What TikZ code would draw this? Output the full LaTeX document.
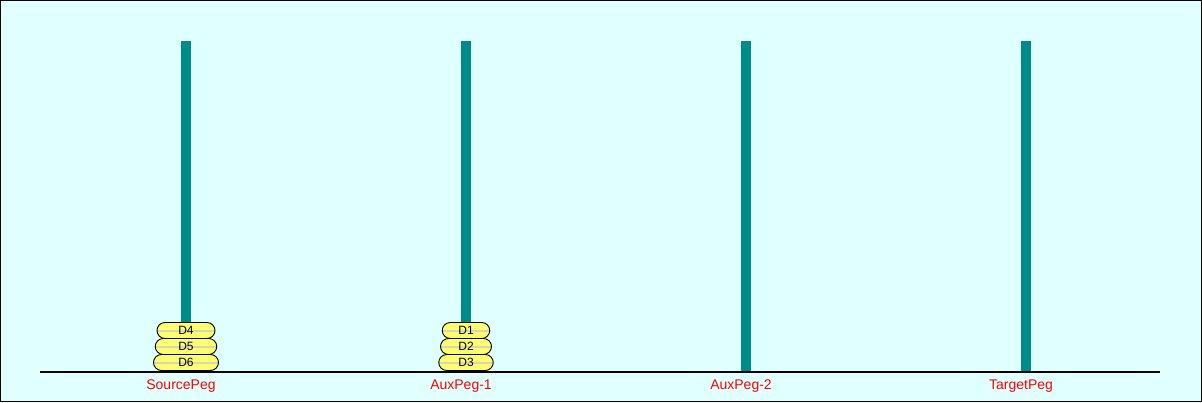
\documentclass[tikz,border=0pt]{standalone}
\usepackage{fontspec}
\setmainfont{Liberation Sans}
\definecolor{bgcyan}{RGB}{224,255,255}
\definecolor{pegteal}{RGB}{0,139,139}
\definecolor{diskyellow}{RGB}{255,255,102}
\definecolor{stripegray}{RGB}{211,211,211}

\begin{document}
\begin{tikzpicture}[x=1pt,y=-1pt,
	peg/.style={fill=pegteal,draw=none},
	disk node/.style={draw=black,line width=0.9pt,fill=diskyellow,rounded corners=8pt,
		minimum height=16pt,inner sep=0pt,font=\fontsize{12}{12}\selectfont,
		path picture={\draw[stripegray,line width=2pt] (path picture bounding box.west) -- (path picture bounding box.east);}},
	peg label/.style={text=red,font=\fontsize{14}{14}\selectfont}]
	
	% frame
	\draw[fill=bgcyan,line width=1pt] (0.5,0.5) rectangle (1201.5,401.5);
	\useasboundingbox (0,0) rectangle (1202,402);
	
	% pegs
	\foreach \x/\name in {186/src,466/auxa,746/auxb,1026/tgt}{
		\fill[peg] (\x-5,41) rectangle (\x+5,371);
		\coordinate (\name) at (\x,372);
	}
	
	% ground
	\draw[line width=2pt] (40,372) -- (1160,372);
	
	\node[peg label] (lsrc) at (181,386.5) {SourcePeg};
	\node[peg label] (lauxa) at (461,386.5) {AuxPeg-1};
	\node[peg label] (lauxb) at (741,386.5) {AuxPeg-2};
	\node[peg label] (ltgt) at (1021,386.5) {TargetPeg};
	
	% disks on SourcePeg
	\node[disk node,minimum width=65pt] (d6) at (186,362.5) {D6};
	\node[disk node,minimum width=61.5pt] (d5) at (186,346.5) {D5};
	\node[disk node,minimum width=58pt] (d4) at (186,330.5) {D4};
	
	% disks on AuxPeg-1
	\node[disk node,minimum width=54.5pt] (d3) at (466,362.5) {D3};
	\node[disk node,minimum width=51pt] (d2) at (466,346.5) {D2};
	\node[disk node,minimum width=47.5pt] (d1) at (466,330.5) {D1};
	
\end{tikzpicture}
\end{document}
